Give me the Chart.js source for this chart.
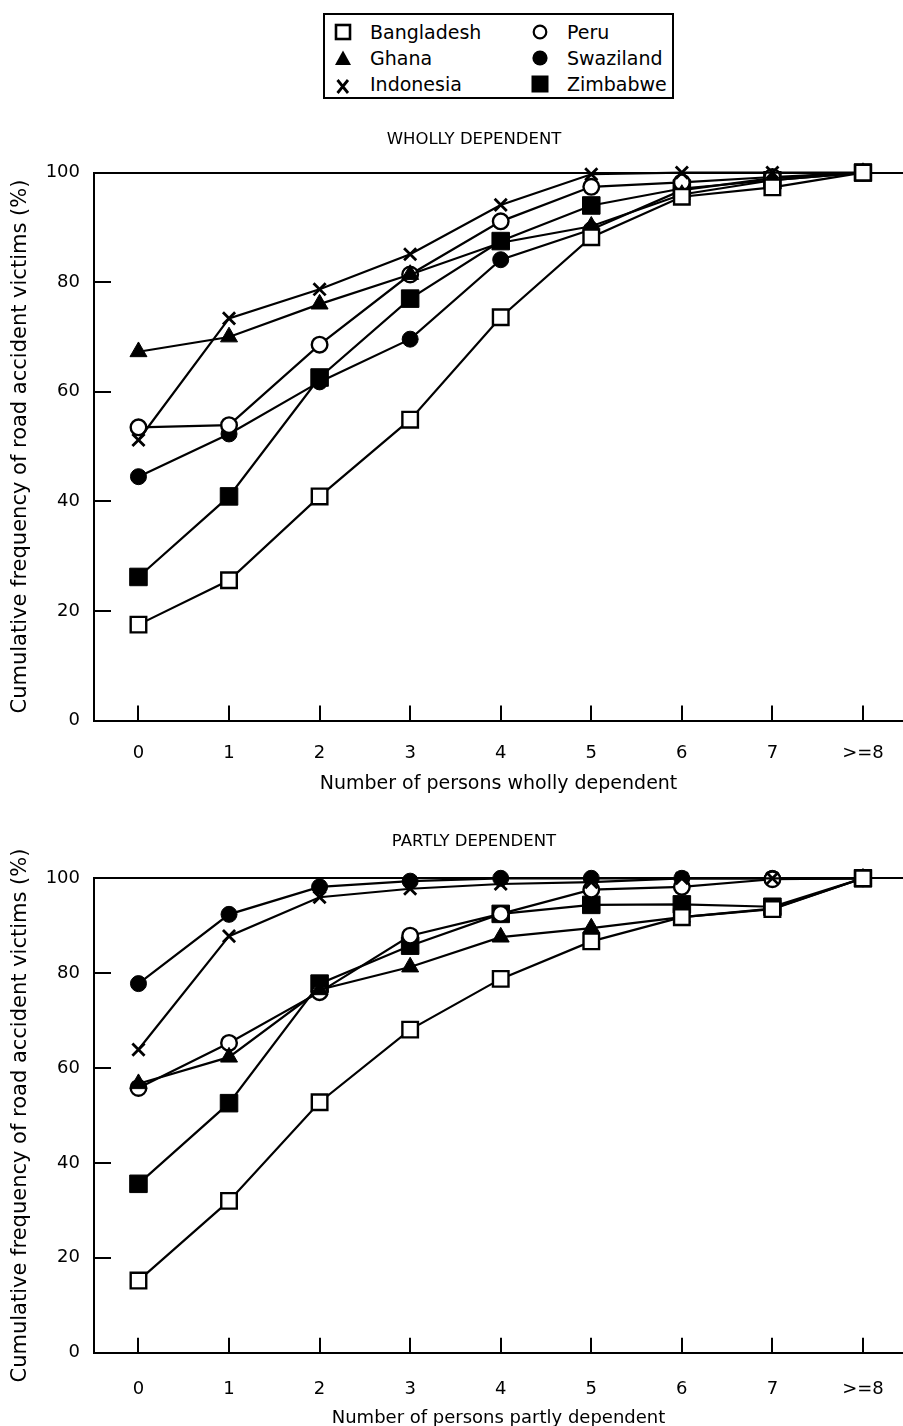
<!DOCTYPE html>
<html>
<head>
<meta charset="utf-8">
<script src="https://cdn.jsdelivr.net/npm/chart.js@4.4.0/dist/chart.umd.min.js"></script>
<style>
  html,body{margin:0;padding:0;background:#fff;}
  body{width:903px;height:1426px;position:relative;overflow:hidden;font-family:"DejaVu Sans",sans-serif;}
  #legend{position:absolute;left:323px;top:13px;width:347px;height:82px;border:2px solid #000;}
  .mk{position:absolute;width:20px;height:20px;}
  .lt{position:absolute;font-size:19px;line-height:22px;color:#000;white-space:nowrap;}
  .wrap{position:absolute;left:0;width:903px;}
</style>
</head>
<body>
<div id="legend"></div>
<div class="wrap" style="top:115px;height:690px"><canvas id="c1" width="903" height="690"></canvas></div>
<div class="wrap" style="top:815px;height:620px"><canvas id="c2" width="903" height="620"></canvas></div>
<script>
// ---------- data ----------
const xLabels = ['0','1','2','3','4','5','6','7','>=8'];
const countries = ['Bangladesh','Ghana','Indonesia','Peru','Swaziland','Zimbabwe'];

// Wholly dependent (cumulative %)
const whollyBangladesh = [17.5, 25.6, 40.9, 54.9, 73.6, 88.2, 95.6, 97.3, 100];
const whollyGhana      = [67.3, 70.0, 76.0, 81.4, 87.2, 90.2, 96.0, 98.6, 100];
const whollyIndonesia  = [51.2, 73.4, 78.7, 85.1, 94.1, 99.7, 100, 100, 100];
const whollyPeru       = [53.5, 53.9, 68.6, 81.4, 91.1, 97.4, 98.2, 99.2, 100];
const whollySwaziland  = [44.5, 52.3, 61.8, 69.6, 84.1, 89.6, 96.8, 99.0, 100];
const whollyZimbabwe   = [26.2, 40.9, 62.6, 77.0, 87.5, 94.0, 97.1, 98.6, 100];

// Partly dependent (cumulative %)
const partlyBangladesh = [15.2, 32.0, 52.8, 68.1, 78.8, 86.7, 91.8, 93.5, 100];
const partlyGhana      = [56.7, 62.3, 76.5, 81.3, 87.6, 89.5, 91.8, 93.6, 100];
const partlyIndonesia  = [63.9, 87.8, 96.0, 97.8, 98.8, 99.2, 100, 100, 100];
const partlyPeru       = [55.8, 65.3, 76.0, 87.9, 92.5, 97.6, 98.2, 99.8, 100];
const partlySwaziland  = [77.8, 92.4, 98.2, 99.4, 100, 100, 100, 100, 100];
const partlyZimbabwe   = [35.6, 52.6, 77.8, 85.8, 92.5, 94.4, 94.5, 94.0, 100];

const yTicks = [0, 20, 40, 60, 80, 100];

// ---------- styles ----------
const markerStyle = {
  Bangladesh: {pointStyle:'rect', pointRadius:11, pointBackgroundColor:'#fff', pointBorderWidth:2.4},
  Ghana:      {pointStyle:'triangle', pointRadius:9.8, pointBackgroundColor:'#000', pointBorderWidth:1},
  Indonesia:  {pointStyle:'crossRot', pointRadius:8.6, pointBackgroundColor:'#000', pointBorderWidth:2.8},
  Peru:       {pointStyle:'circle', pointRadius:7.8, pointBackgroundColor:'#fff', pointBorderWidth:2.4},
  Swaziland:  {pointStyle:'circle', pointRadius:8, pointBackgroundColor:'#000', pointBorderWidth:1},
  Zimbabwe:   {pointStyle:'rect', pointRadius:12.4, pointBackgroundColor:'#000', pointBorderWidth:1}
};

// ---------- legend (HTML) ----------
const legendSvg = {
  Bangladesh:'<svg width="20" height="20"><rect x="3" y="3" width="14" height="14" fill="#fff" stroke="#000" stroke-width="2.6"/></svg>',
  Ghana:'<svg width="20" height="20"><polygon points="10,2.5 18,17 2,17" fill="#000"/></svg>',
  Indonesia:'<svg width="20" height="20"><path d="M4.5 6 L15 19 M15 6 L4.5 19" stroke="#000" stroke-width="2.8"/></svg>',
  Peru:'<svg width="20" height="20"><circle cx="10" cy="10" r="6.3" fill="#fff" stroke="#000" stroke-width="2.2"/></svg>',
  Swaziland:'<svg width="20" height="20"><circle cx="10" cy="10" r="7.6" fill="#000"/></svg>',
  Zimbabwe:'<svg width="20" height="20"><rect x="1.5" y="1.5" width="17" height="17" fill="#000"/></svg>'
};
const legendOrder = ['Bangladesh','Ghana','Indonesia','Peru','Swaziland','Zimbabwe'];
const legendMarkerX = [18, 18, 18, 215, 215, 215];
const legendTextX   = [45, 45, 45, 242, 242, 242];
const legendRowY    = [17, 43, 69, 17, 43, 69];
const legendEl = document.getElementById('legend');
legendOrder.forEach((name,i)=>{
  const m = document.createElement('div');
  m.className='mk';
  m.style.left = (legendMarkerX[i]-10)+'px';
  m.style.top = (legendRowY[i]-10)+'px';
  m.innerHTML = legendSvg[name];
  legendEl.appendChild(m);
  const t = document.createElement('div');
  t.className='lt';
  t.style.left = legendTextX[i]+'px';
  t.style.top = (legendRowY[i]-11)+'px';
  t.textContent = name;
  legendEl.appendChild(t);
});

// ---------- chart helpers ----------
Chart.defaults.font.family = '"DejaVu Sans", sans-serif';
Chart.defaults.color = '#000';

const inwardTicks = {
  id:'inwardTicks',
  beforeDatasetsDraw(chart){
    const {ctx, chartArea:a, scales:{x,y}} = chart;
    ctx.save();
    ctx.strokeStyle='#000';
    ctx.lineWidth=2;
    y.ticks.forEach(t=>{
      if(t.value<=0 || t.value>=100) return;
      const py = Math.round(y.getPixelForValue(t.value));
      ctx.beginPath(); ctx.moveTo(a.left,py); ctx.lineTo(a.left+17,py); ctx.stroke();
    });
    x.ticks.forEach(t=>{
      const px = Math.round(x.getPixelForValue(t.value));
      ctx.beginPath(); ctx.moveTo(px,a.bottom); ctx.lineTo(px,a.bottom-15); ctx.stroke();
    });
    ctx.restore();
  }
};

const PAD_LEFT = 45;   // shifts the full-width title so it is centred like the original
const Y_AXIS_RIGHT = 94;

function makeChart(id, series, title, xTitle, geo){
  const datasets = countries.map((name,i)=>Object.assign({
    label:name,
    data: series[i].map((v,j)=>({x:j, y:v})),
    borderColor:'#000',
    borderWidth:2.2,
    pointBorderColor:'#000',
    pointHoverRadius:8,
    tension:0,
    fill:false,
    clip:false
  }, markerStyle[name]));
  return new Chart(document.getElementById(id), {
    type:'line',
    data:{datasets},
    plugins:[inwardTicks],
    options:{
      responsive:false,
      animation:false,
      devicePixelRatio:1,
      layout:{autoPadding:false, padding:{left:PAD_LEFT,right:0,top:0,bottom:0}},
      plugins:{
        legend:{display:false},
        tooltip:{enabled:false},
        title:{display:true, text:title, color:'#000',
               font:{size:16.5, weight:'normal'}, padding:{top:geo.titleTop, bottom:geo.titleBottom}}
      },
      scales:{
        x:{
          type:'linear', min:-0.491, max:8.442,
          afterBuildTicks:(s)=>{ s.ticks = xLabels.map((_,i)=>({value:i})); },
          afterFit:(s)=>{ s.height = geo.xHeight; s.paddingLeft = 0; s.paddingRight = 0; },
          ticks:{callback:(v)=>xLabels[v] ?? '', font:{size:18}, padding:geo.xTickPad, color:'#000', maxRotation:0, autoSkip:false},
          grid:{display:false, drawTicks:false},
          border:{display:true, color:'#000', width:2},
          title:{display:true, text:xTitle, color:'#000', font:{size:geo.xTitleSize}, padding:{top:0,bottom:geo.xTitleBottom}}
        },
        y:{
          min:0, max:100,
          afterBuildTicks:(s)=>{ s.ticks = yTicks.map(v=>({value:v})); },
          afterFit:(s)=>{ s.width = Y_AXIS_RIGHT - PAD_LEFT; },
          ticks:{font:{size:18}, padding:14, color:'#000'},
          grid:{drawTicks:false, lineWidth:2,
                color:(c)=> (c.tick && c.tick.value===100) ? '#000' : 'rgba(0,0,0,0)'},
          border:{display:true, color:'#000', width:2},
          title:{display:true, text:'Cumulative frequency of road accident victims (%)', color:'#000',
                 font:{size:21}, padding:{top:8-PAD_LEFT,bottom:0}}
        }
      }
    }
  });
}

makeChart('c1',
  [whollyBangladesh, whollyGhana, whollyIndonesia, whollyPeru, whollySwaziland, whollyZimbabwe],
  'WHOLLY DEPENDENT', 'Number of persons wholly dependent',
  {titleTop:15, titleBottom:22.8, xHeight:84.5, xTickPad:22, xTitleBottom:10, xTitleSize:19});

makeChart('c2',
  [partlyBangladesh, partlyGhana, partlyIndonesia, partlyPeru, partlySwaziland, partlyZimbabwe],
  'PARTLY DEPENDENT', 'Number of persons partly dependent',
  {titleTop:17, titleBottom:26.5, xHeight:82.3, xTickPad:26, xTitleBottom:6, xTitleSize:18});
</script>
</body>
</html>
